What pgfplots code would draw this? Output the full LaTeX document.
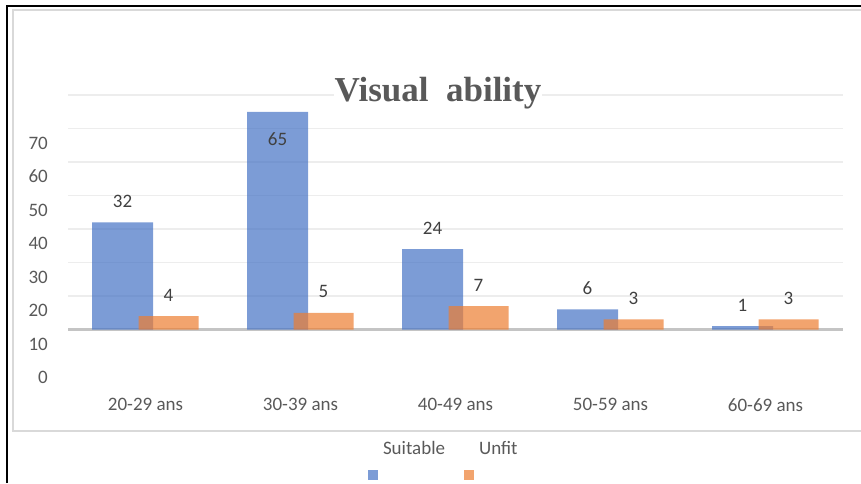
\documentclass[border=0pt]{standalone}
\usepackage{pgfplots}
\pgfplotsset{compat=1.18}
\usepackage{fontspec}
\setmainfont{Carlito}
\newfontfamily\titlefont{Liberation Serif}
\definecolor{barblue}{HTML}{4472C4}
\definecolor{barorange}{HTML}{ED7D31}
\definecolor{ticktext}{HTML}{595959}
\definecolor{labtext}{HTML}{404040}
\definecolor{gridc}{HTML}{EDEDED}
\definecolor{basec}{HTML}{C4C4C4}
\definecolor{framec}{HTML}{D9D9D9}
\pgfplotsset{sqlegend/.style={legend image code/.code={\fill[##1] (0pt,-31pt) rectangle (10pt,-21pt);}}}
\begin{document}
\begin{tikzpicture}
\path[use as bounding box] (0pt,0pt) rectangle (861pt,-483pt);
\draw[black, line width=2pt] (7pt,-483pt) -- (7pt,-6pt) -- (862pt,-6pt);
\draw[framec, line width=1.5pt] (870pt,-431pt) -- (13pt,-431pt) -- (13pt,-10pt) -- (870pt,-10pt);
\begin{axis}[
  at={(68pt,-383.1pt)}, anchor=south west, scale only axis,
  width=775pt, height=288.1pt,
  xmin=-0.5, xmax=4.5, ymin=-16, ymax=70,
  axis lines=left, axis line style={draw=none},
  major tick length=0pt,
  /pgf/number format/assume math mode=true,
  xtick={0,1,2,3,4},
  xticklabels={20-29 ans,30-39 ans,40-49 ans,50-59 ans,60-69 ans},
  xticklabel style={anchor=north, inner sep=0pt, yshift=-15pt, font=\fontsize{19}{22}\selectfont, text=ticktext},
  ytick={-14.3,-4.3,5.7,15.7,25.7,35.7,45.7,55.7},
  yticklabels={0,10,20,30,40,50,60,70},
  yticklabel style={anchor=east, inner sep=0pt, xshift=-20pt, font=\fontsize{19}{22}\selectfont, text=ticktext},
  extra y ticks={10,20,30,40,50,60,70},
  extra y tick labels={},
  extra y tick style={grid=major, major grid style={draw=gridc, line width=1.5pt}},
  title={Visual\ \ ability},
  title style={at={(0.4774,0.955)}, anchor=base, font=\titlefont\bfseries\fontsize{35}{40}\selectfont, text=ticktext, fill=white, inner sep=1pt},
  legend columns=2,
  legend style={at={(0.3871,-0.3363)}, anchor=south west, draw=none, fill=none, inner sep=0pt, outer sep=0pt,
    font=\fontsize{19}{22}\selectfont, text=ticktext, nodes={inner sep=0pt},
    /tikz/every odd column/.style={column sep=5pt}, /tikz/every even column/.style={column sep=19pt}},
]
\addplot[draw=basec, line width=2.5pt, forget plot] coordinates {(-0.5,0) (4.5,0)};
% labels of Suitable (drawn beneath the bars)
\addplot[ybar, bar width=61pt, bar shift=-23pt, draw=none, fill=none, forget plot,
  nodes near coords, nodes near coords style={font=\fontsize{19}{22}\selectfont, text=labtext, anchor=center, inner sep=0pt, xshift=-23pt, yshift=21pt}]
  coordinates {(0,32) (2,24) (3,6) (4,1)};
\addplot[ybar, bar width=61pt, bar shift=-23pt, draw=none, fill=none, forget plot,
  nodes near coords, nodes near coords style={font=\fontsize{19}{22}\selectfont, text=labtext, anchor=center, inner sep=0pt, xshift=-23pt, yshift=-27pt}]
  coordinates {(1,65)};
\addplot[ybar, bar width=61pt, bar shift=-23pt, fill=barblue, fill opacity=0.7, draw=none, sqlegend]
  coordinates {(0,32) (1,65) (2,24) (3,6) (4,1)};
\addlegendentry{Suitable}
\addplot[ybar, bar width=60pt, bar shift=23pt, fill=barorange, fill opacity=0.7, draw=none,
  nodes near coords, nodes near coords style={font=\fontsize{19}{22}\selectfont, text=labtext, text opacity=1, anchor=center, inner sep=0pt, xshift=23pt, yshift=21pt}, sqlegend]
  coordinates {(0,4) (1,5) (2,7) (3,3) (4,3)};
\addlegendentry{Unfit}
\end{axis}
\end{tikzpicture}
\end{document}
